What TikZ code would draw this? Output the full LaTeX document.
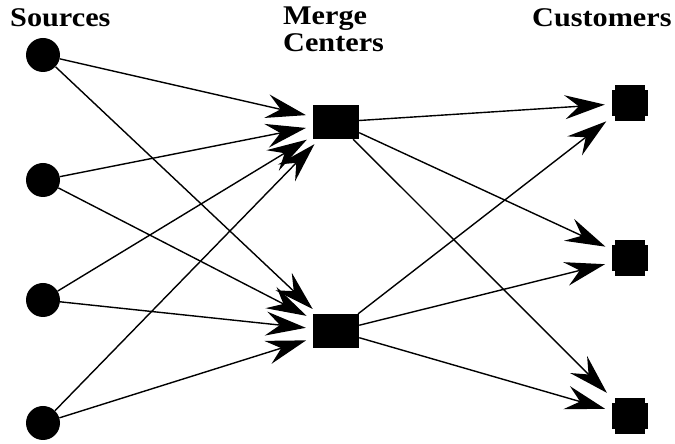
\documentclass[tikz,border=0pt]{standalone}
\usepackage{fontspec}
\setmainfont{Liberation Serif}
\newfontfamily\labfont[FakeStretch=1.12]{Liberation Serif}
\usetikzlibrary{arrows.meta}
\tikzset{
  src/.style={circle, fill=black, minimum size=34pt, inner sep=0pt},
  mrg/.style={rectangle, fill=black, minimum width=46pt, minimum height=34pt, inner sep=0pt},
  cust/.style={rectangle, minimum width=36pt, minimum height=36pt, inner sep=0pt},
  edge/.style={line width=1.4pt, -{Stealth[length=40pt, width=24pt, inset=14pt]}, shorten >=7pt},
  lab/.style={font=\labfont\bfseries\fontsize{27}{30}\selectfont, anchor=base west, inner sep=0pt, align=left}
}
\begin{document}
\begin{tikzpicture}[x=1pt,y=1pt]
\useasboundingbox (0,0) rectangle (675,444);
% titles
\node[lab] (t1) at (10,417) {Sources};
\node[lab] (t2) at (283,419) {Merge};
\node[lab] (t3) at (283,392) {Centers};
\node[lab] (t4) at (532,417) {Customers};
% sources
\node[src] (s1) at (43,389) {};
\node[src] (s2) at (43,264) {};
\node[src] (s3) at (43,144) {};
\node[src] (s4) at (43,21) {};
% merge centers
\node[mrg] (m1) at (336,322) {};
\node[mrg] (m2) at (336,113) {};
% customers
\node[cust] (c1) at (630,341) {};
\node[cust] (c2) at (630,186) {};
\node[cust] (c3) at (630,28) {};
\foreach \c in {c1,c2,c3}{
  \fill ([xshift=3pt]\c.south west) rectangle ([xshift=-3pt]\c.north east);
  \fill ([yshift=5pt]\c.south west) rectangle ([yshift=-5pt]\c.north east);
}
% edges
\foreach \s in {s1,s2,s3,s4}{
  \foreach \m in {m1,m2}{
    \draw[edge] (\s) -- (\m);
  }
}
\foreach \m in {m1,m2}{
  \foreach \c in {c1,c2,c3}{
    \draw[edge] (\m) -- (\c);
  }
}
\end{tikzpicture}
\end{document}
